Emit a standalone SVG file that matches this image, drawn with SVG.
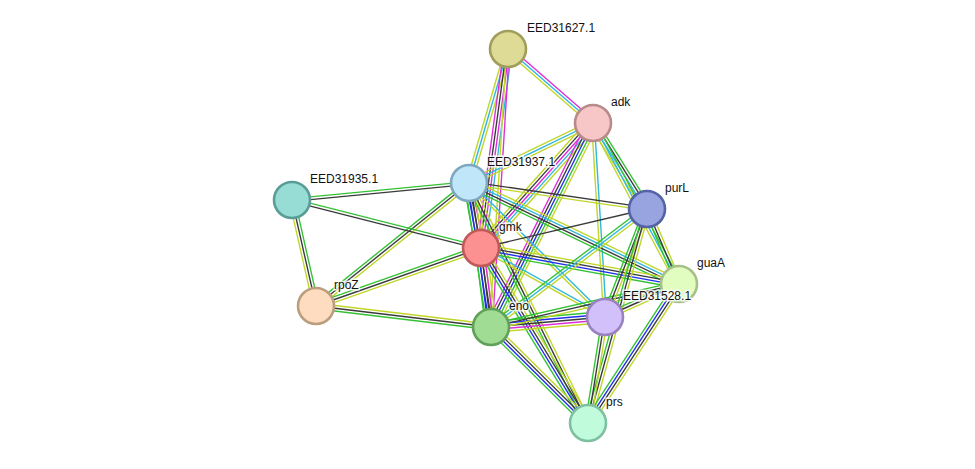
<svg xmlns="http://www.w3.org/2000/svg" width="975" height="469" viewBox="0 0 975 469">
<style>
line{stroke-width:1.1;fill:none}
#connectors line{transform:scaleY(1.25)}
.g{stroke:#33c233}.b{stroke:#1f2fee}.k{stroke:#3a3a3a}.m{stroke:#dd2ddd}.c{stroke:#2fb8dc}.y{stroke:#c0d62a}
circle{stroke-width:2.6}
text{font-family:"Liberation Sans",Arial,sans-serif;font-size:12px;fill:#111;paint-order:stroke;stroke:#fff;stroke-width:3;stroke-opacity:0.8}
</style>
<rect width="975" height="469" fill="#fff"/>
<g id="connectors">
<g transform="translate(508,49) rotate(41.04)"><line x2="112.7" y1="-2.2" y2="-2.2" class="m"/><line x2="112.7" class="c"/><line x2="112.7" y1="2.2" y2="2.2" class="y"/></g>
<g transform="translate(508,49) rotate(106.23)"><line x2="139.6" y1="-2.2" y2="-2.2" class="y"/><line x2="139.6" class="c"/><line x2="139.6" y1="2.2" y2="2.2" class="y"/></g>
<g transform="translate(508,49) rotate(97.73)"><line x2="200.8" y1="-3.3" y2="-3.3" class="c"/><line x2="200.8" y1="-1.1" y2="-1.1" class="m"/><line x2="200.8" y1="1.1" y2="1.1" class="k"/><line x2="200.8" y1="3.3" y2="3.3" class="m"/></g>
<g transform="translate(508,49) rotate(93.5)"><line x2="278.5" y1="-1.1" y2="-1.1" class="m"/><line x2="278.5" y1="1.1" y2="1.1" class="y"/></g>
<g transform="translate(593,123) rotate(154.18)"><line x2="137.8" y1="-2.2" y2="-2.2" class="y"/><line x2="137.8" class="c"/><line x2="137.8" y1="2.2" y2="2.2" class="y"/></g>
<g transform="translate(593,123) rotate(131.86)"><line x2="167.8" y1="-4.4" y2="-4.4" class="y"/><line x2="167.8" y1="-2.2" y2="-2.2" class="c"/><line x2="167.8" class="m"/><line x2="167.8" y1="2.2" y2="2.2" class="k"/><line x2="167.8" y1="4.4" y2="4.4" class="y"/></g>
<g transform="translate(593,123) rotate(116.57)"><line x2="228.1" y1="-4.4" y2="-4.4" class="y"/><line x2="228.1" y1="-2.2" y2="-2.2" class="g"/><line x2="228.1" class="b"/><line x2="228.1" y1="2.2" y2="2.2" class="k"/><line x2="228.1" y1="4.4" y2="4.4" class="m"/></g>
<g transform="translate(593,123) rotate(57.87)"><line x2="101.5" y1="-3.3" y2="-3.3" class="g"/><line x2="101.5" y1="-1.1" y2="-1.1" class="k"/><line x2="101.5" y1="1.1" y2="1.1" class="c"/><line x2="101.5" y1="3.3" y2="3.3" class="y"/></g>
<g transform="translate(593,123) rotate(61.89)"><line x2="182.5" y1="-2.2" y2="-2.2" class="g"/><line x2="182.5" class="c"/><line x2="182.5" y1="2.2" y2="2.2" class="y"/></g>
<g transform="translate(593,123) rotate(86.46)"><line x2="194.4" y1="-1.1" y2="-1.1" class="c"/><line x2="194.4" y1="1.1" y2="1.1" class="y"/></g>
<g transform="translate(469,183) rotate(174.51)"><line x2="177.8" y1="-1.1" y2="-1.1" class="k"/><line x2="177.8" y1="1.1" y2="1.1" class="g"/></g>
<g transform="translate(469,183) rotate(8.31)"><line x2="179.9" y1="-1.1" y2="-1.1" class="k"/><line x2="179.9" y1="1.1" y2="1.1" class="y"/></g>
<g transform="translate(469,183) rotate(79.54)"><line x2="66.1" y1="-4.4" y2="-4.4" class="y"/><line x2="66.1" y1="-2.2" y2="-2.2" class="m"/><line x2="66.1" class="k"/><line x2="66.1" y1="2.2" y2="2.2" class="b"/><line x2="66.1" y1="4.4" y2="4.4" class="g"/></g>
<g transform="translate(469,183) rotate(81.31)"><line x2="145.7" y1="-3.3" y2="-3.3" class="y"/><line x2="145.7" y1="-1.1" y2="-1.1" class="k"/><line x2="145.7" y1="1.1" y2="1.1" class="b"/><line x2="145.7" y1="3.3" y2="3.3" class="g"/></g>
<g transform="translate(469,183) rotate(141.2)"><line x2="196.3" y1="-2.2" y2="-2.2" class="y"/><line x2="196.3" class="k"/><line x2="196.3" y1="2.2" y2="2.2" class="g"/></g>
<g transform="translate(469,183) rotate(25.69)"><line x2="233" y1="-3.3" y2="-3.3" class="y"/><line x2="233" y1="-1.1" y2="-1.1" class="c"/><line x2="233" y1="1.1" y2="1.1" class="k"/><line x2="233" y1="3.3" y2="3.3" class="g"/></g>
<g transform="translate(469,183) rotate(44.58)"><line x2="190.9" y1="-1.1" y2="-1.1" class="c"/><line x2="190.9" y1="1.1" y2="1.1" class="y"/></g>
<g transform="translate(469,183) rotate(63.63)"><line x2="267.9" y1="-2.2" y2="-2.2" class="y"/><line x2="267.9" class="k"/><line x2="267.9" y1="2.2" y2="2.2" class="g"/></g>
<g transform="translate(292,200) rotate(14.25)"><line x2="195" y1="-1.1" y2="-1.1" class="g"/><line x2="195" y1="1.1" y2="1.1" class="k"/></g>
<g transform="translate(292,200) rotate(77.24)"><line x2="108.7" y1="-2.2" y2="-2.2" class="g"/><line x2="108.7" class="k"/><line x2="108.7" y1="2.2" y2="2.2" class="y"/></g>
<g transform="translate(647,209) rotate(166.78)"><line x2="170.5" class="k"/></g>
<g transform="translate(481,248) rotate(160.63)"><line x2="174.9" y1="-2.2" y2="-2.2" class="y"/><line x2="174.9" class="k"/><line x2="174.9" y1="2.2" y2="2.2" class="g"/></g>
<g transform="translate(481,248) rotate(82.79)"><line x2="79.6" y1="-4.4" y2="-4.4" class="y"/><line x2="79.6" y1="-2.2" y2="-2.2" class="m"/><line x2="79.6" class="k"/><line x2="79.6" y1="2.2" y2="2.2" class="b"/><line x2="79.6" y1="4.4" y2="4.4" class="g"/></g>
<g transform="translate(481,248) rotate(10.3)"><line x2="201.2" y1="-3.3" y2="-3.3" class="y"/><line x2="201.2" y1="-1.1" y2="-1.1" class="k"/><line x2="201.2" y1="1.1" y2="1.1" class="b"/><line x2="201.2" y1="3.3" y2="3.3" class="g"/></g>
<g transform="translate(481,248) rotate(29.09)"><line x2="141.9" y1="-1.1" y2="-1.1" class="c"/><line x2="141.9" y1="1.1" y2="1.1" class="y"/></g>
<g transform="translate(481,248) rotate(58.56)"><line x2="205.1" y1="-3.3" y2="-3.3" class="y"/><line x2="205.1" y1="-1.1" y2="-1.1" class="k"/><line x2="205.1" y1="1.1" y2="1.1" class="b"/><line x2="205.1" y1="3.3" y2="3.3" class="g"/></g>
<g transform="translate(316,306) rotate(6.84)"><line x2="176.3" y1="-2.2" y2="-2.2" class="y"/><line x2="176.3" class="k"/><line x2="176.3" y1="2.2" y2="2.2" class="g"/></g>
<g transform="translate(491,327) rotate(-37.1)"><line x2="195.6" y1="-2.2" y2="-2.2" class="g"/><line x2="195.6" class="c"/><line x2="195.6" y1="2.2" y2="2.2" class="y"/></g>
<g transform="translate(491,327) rotate(-5.01)"><line x2="114.4" y1="-4.4" y2="-4.4" class="g"/><line x2="114.4" y1="-2.2" y2="-2.2" class="b"/><line x2="114.4" class="k"/><line x2="114.4" y1="2.2" y2="2.2" class="m"/><line x2="114.4" y1="4.4" y2="4.4" class="y"/></g>
<g transform="translate(491,327) rotate(-12.88)"><line x2="192.9" y1="-2.2" y2="-2.2" class="g"/><line x2="192.9" class="k"/><line x2="192.9" y1="2.2" y2="2.2" class="y"/></g>
<g transform="translate(491,327) rotate(44.7)"><line x2="136.5" y1="-3.3" y2="-3.3" class="y"/><line x2="136.5" y1="-1.1" y2="-1.1" class="k"/><line x2="136.5" y1="1.1" y2="1.1" class="b"/><line x2="136.5" y1="3.3" y2="3.3" class="g"/></g>
<g transform="translate(647,209) rotate(111.25)"><line x2="115.9" y1="-2.2" y2="-2.2" class="y"/><line x2="115.9" class="k"/><line x2="115.9" y1="2.2" y2="2.2" class="g"/></g>
<g transform="translate(647,209) rotate(66.89)"><line x2="81.5" y1="-2.2" y2="-2.2" class="y"/><line x2="81.5" class="k"/><line x2="81.5" y1="2.2" y2="2.2" class="g"/></g>
<g transform="translate(647,209) rotate(105.41)"><line x2="222" y1="-2.2" y2="-2.2" class="y"/><line x2="222" class="k"/><line x2="222" y1="2.2" y2="2.2" class="g"/></g>
<g transform="translate(679,284) rotate(155.96)"><line x2="81" y1="-2.2" y2="-2.2" class="y"/><line x2="81" class="k"/><line x2="81" y1="2.2" y2="2.2" class="g"/></g>
<g transform="translate(679,284) rotate(123.21)"><line x2="166.1" y1="-3.3" y2="-3.3" class="y"/><line x2="166.1" y1="-1.1" y2="-1.1" class="k"/><line x2="166.1" y1="1.1" y2="1.1" class="b"/><line x2="166.1" y1="3.3" y2="3.3" class="g"/></g>
<g transform="translate(605,317) rotate(99.11)"><line x2="107.4" y1="-2.2" y2="-2.2" class="y"/><line x2="107.4" class="k"/><line x2="107.4" y1="2.2" y2="2.2" class="g"/></g>
</g>
<g id="node-EED31627.1"><circle cx="508" cy="49" r="18" fill="#dedb96" stroke="#a09e5a"/><text x="527" y="32">EED31627.1</text></g>
<g id="node-adk"><circle cx="593" cy="123" r="18" fill="#f7c6c6" stroke="#b88a8a"/><text x="611" y="106">adk</text></g>
<g id="node-EED31937.1"><circle cx="469" cy="183" r="18" fill="#c0e6fa" stroke="#7fa8c0"/><text x="487" y="166">EED31937.1</text></g>
<g id="node-EED31935.1"><circle cx="292" cy="200" r="18" fill="#97ddd5" stroke="#5a9d96"/><text x="310" y="183">EED31935.1</text></g>
<g id="node-purL"><circle cx="647" cy="209" r="18" fill="#98a4e0" stroke="#5462a6"/><text x="665" y="192">purL</text></g>
<g id="node-gmk"><circle cx="481" cy="248" r="18" fill="#fd9090" stroke="#c05a5a"/><text x="499" y="231">gmk</text></g>
<g id="node-guaA"><circle cx="679" cy="284" r="18" fill="#e2fdc0" stroke="#a7bf88"/><text x="697" y="267">guaA</text></g>
<g id="node-rpoZ"><circle cx="316" cy="306" r="18" fill="#fddcc0" stroke="#bb9e7e"/><text x="334" y="289">rpoZ</text></g>
<g id="node-eno"><circle cx="491" cy="327" r="18" fill="#a0dc94" stroke="#60a058"/><text x="509" y="310">eno</text></g>
<g id="node-EED31528.1"><circle cx="605" cy="317" r="18" fill="#d2c0fa" stroke="#9a82c0"/><text x="623" y="300">EED31528.1</text></g>
<g id="node-prs"><circle cx="588" cy="423" r="18" fill="#c0fcdc" stroke="#7fc0a0"/><text x="606" y="406">prs</text></g>
</svg>
